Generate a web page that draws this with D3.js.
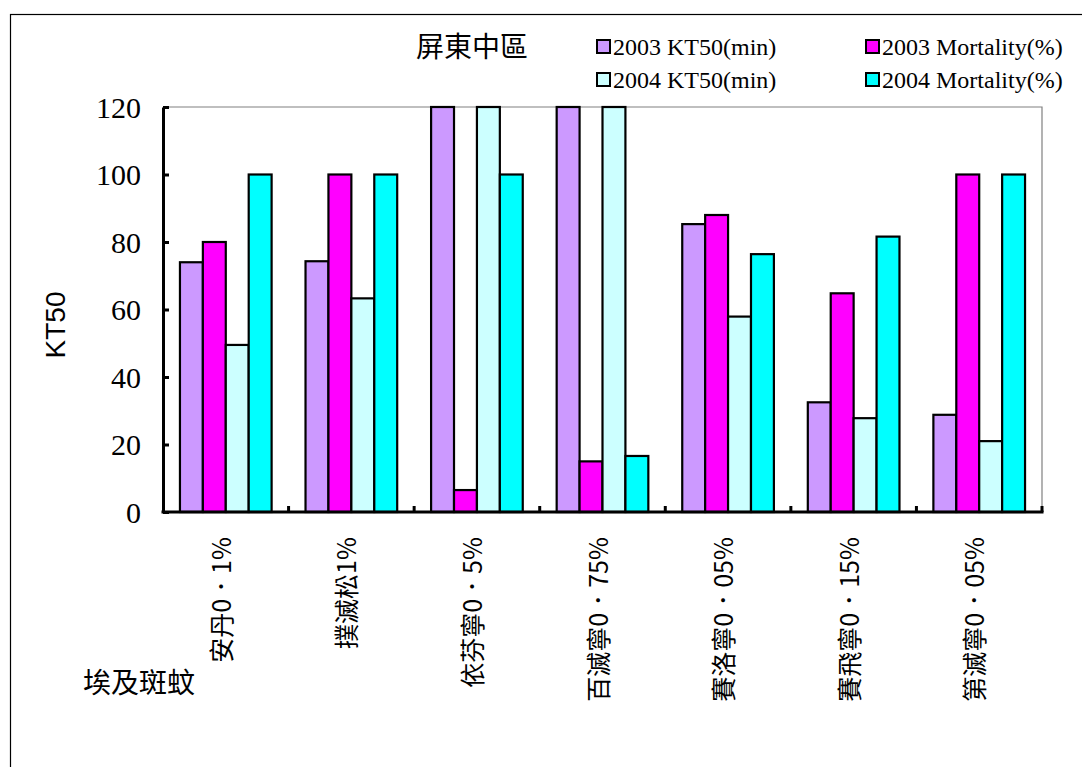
<!DOCTYPE html>
<html>
<head>
<meta charset="utf-8">
<script src="https://cdn.jsdelivr.net/npm/d3@7"></script>
<style>
  body { margin: 0; background: #fff; }
  svg { display: block; }
</style>
</head>
<body>
<svg id="chart" width="1082" height="767"></svg>
<script>
const categories = ["安丹0．1%", "撲滅松1%", "依芬寧0．5%", "百滅寧0．75%", "賽洛寧0．05%", "賽飛寧0．15%", "第滅寧0．05%"];
const seriesNames = ["2003 KT50(min)", "2003 Mortality(%)", "2004 KT50(min)", "2004 Mortality(%)"];
const seriesColors = ["#CC99FF", "#FF00FF", "#CCFFFF", "#00FFFF"];
const kt50_2003 = [74, 74.3, 120, 120, 85.3, 32.5, 28.8];
const mort_2003 = [80, 100, 6.5, 15, 88, 64.8, 100];
const kt50_2004 = [49.5, 63.3, 120, 120, 57.9, 27.8, 21];
const mort_2004 = [100, 100, 100, 16.6, 76.4, 81.6, 100];
const yTicks = [0, 20, 40, 60, 80, 100, 120];
const title = "屏東中區";
const yTitle = "KT50";
const xTitle = "埃及斑蚊";

const seriesValues = [kt50_2003, mort_2003, kt50_2004, mort_2004];

const svg = d3.select("#chart");
const L = 163, R = 1042, T = 107, B = 512;
const CJK = "'Noto Sans CJK TC', 'Noto Sans CJK SC', sans-serif";

// outer frame
svg.append("rect").attr("x", 10.5).attr("y", 14.5).attr("width", 1080).attr("height", 800)
  .attr("fill", "none").attr("stroke", "#000").attr("stroke-width", 1.2);

const x0 = d3.scaleBand().domain(categories).range([L, R]).paddingInner(0.27).paddingOuter(0.135);
const x1 = d3.scaleBand().domain(d3.range(seriesNames.length)).range([0, x0.bandwidth()]);
const y = d3.scaleLinear().domain([0, 120]).range([B, T]);

// plot border (top/right gray)
svg.append("path").attr("d", `M${L},${T}H${R}V${B}`).attr("fill", "none")
  .attr("stroke", "#808080").attr("stroke-width", 1.2);

// bars
const g = svg.append("g");
categories.forEach((c, i) => {
  seriesValues.forEach((vals, s) => {
    g.append("rect")
      .attr("x", x0(c) + x1(s))
      .attr("y", y(vals[i]))
      .attr("width", x1.bandwidth())
      .attr("height", y(0) - y(vals[i]))
      .attr("fill", seriesColors[s])
      .attr("stroke", "#000")
      .attr("stroke-width", 2.2);
  });
});

// y axis
const yAxis = d3.axisLeft(y).tickValues(yTicks).tickSize(-6).tickPadding(22).tickSizeOuter(0);
const ya = svg.append("g").attr("transform", `translate(${L},0)`).call(yAxis);
ya.select(".domain").attr("stroke", "#000").attr("stroke-width", 3);
ya.selectAll(".tick line").attr("stroke", "#000").attr("stroke-width", 3);
ya.selectAll(".tick text").attr("font-family", "'Liberation Serif', 'Times New Roman', serif")
  .attr("font-size", 30).attr("fill", "#000").attr("dy", "0.34em");

// x axis line & category ticks
const step = x0.step();
svg.append("line").attr("x1", L - 1.5).attr("x2", R + 1.5).attr("y1", B).attr("y2", B)
  .attr("stroke", "#000").attr("stroke-width", 3);
categories.forEach((c, i) => {
  const xb = L + step * (i + 1);
  svg.append("line").attr("x1", xb).attr("x2", xb).attr("y1", B).attr("y2", B - 6)
    .attr("stroke", "#000").attr("stroke-width", 3);
});

// category labels
categories.forEach(c => {
  const cx = x0(c) + x0.bandwidth() / 2;
  svg.append("text")
    .attr("transform", `translate(${cx - 4},537) rotate(-90)`)
    .attr("text-anchor", "end")
    .attr("dy", "0.36em")
    .attr("font-family", CJK)
    .attr("font-size", 25)
    .attr("fill", "#000")
    .text(c);
});

// y title
svg.append("text")
  .attr("transform", `translate(55,325) rotate(-90)`)
  .attr("text-anchor", "middle").attr("dy", "0.35em")
  .attr("font-family", "'Liberation Sans', Arial, sans-serif").attr("font-size", 28)
  .attr("fill", "#000").text(yTitle);

// x title
svg.append("text").attr("x", 83).attr("y", 683).attr("dy", "0.35em")
  .attr("font-family", CJK).attr("font-size", 28)
  .attr("fill", "#000").text(xTitle);

// title
svg.append("text").attr("x", 416).attr("y", 47).attr("dy", "0.35em")
  .attr("font-family", CJK).attr("font-size", 28)
  .attr("fill", "#000").text(title);

// legend
const legPos = [[597, 47], [866, 47], [597, 80], [866, 80]];
seriesNames.forEach((n, s) => {
  const [lx, ly] = legPos[s];
  svg.append("rect").attr("x", lx).attr("y", ly - 7).attr("width", 13).attr("height", 13)
    .attr("fill", seriesColors[s]).attr("stroke", "#000").attr("stroke-width", 2);
  svg.append("text").attr("x", lx + 16).attr("y", ly).attr("dy", "0.34em")
    .attr("font-family", "'Liberation Serif', 'Times New Roman', serif").attr("font-size", 24)
    .attr("fill", "#000").text(n);
});
</script>
</body>
</html>
